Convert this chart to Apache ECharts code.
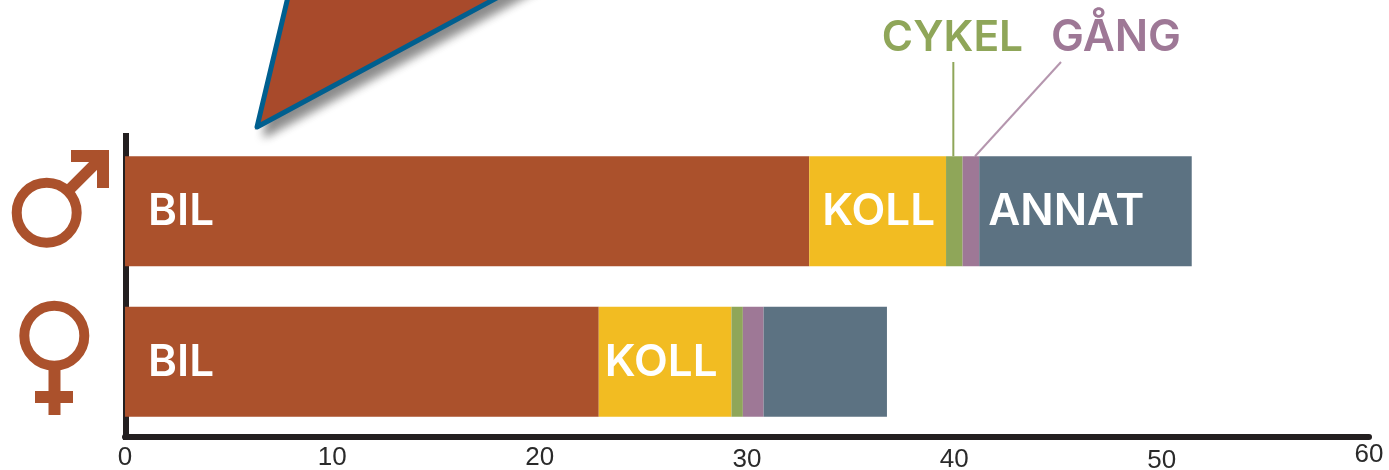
<!DOCTYPE html>
<html>
<head>
<meta charset="utf-8">
<style>
  html, body { margin: 0; padding: 0; background: #fff; }
  #chart { width: 1389px; height: 470px; }
</style>
<script src="https://cdn.jsdelivr.net/npm/echarts@6/dist/echarts.min.js"></script>
</head>
<body>
<div id="chart"></div>
<script>
  var categories = ['Män', 'Kvinnor'];
  var tickValues = [0, 10, 20, 30, 40, 50, 60];
  var bil = [33.0, 22.85];
  var koll = [6.6, 6.4];
  var cykel = [0.8, 0.55];
  var gang = [0.8, 1.0];
  var annat = [10.25, 5.95];
  var bilLabels = ['BIL', 'BIL'];
  var kollLabels = ['KOLL', 'KOLL'];
  var annatLabels = ['ANNAT', ''];

  var BROWN = '#ab512c', YELLOW = '#f2bc22', GREEN = '#8fa659', PURPLE = '#9e7896', SLATE = '#5c7282';
  var AXIS = '#231f20';
  var FONT = 'Inter, "Noto Sans", sans-serif';
  var TICK_FONT = '"Liberation Sans", sans-serif';

  function segment(name, values, color, labels, gaps) {
    return {
      name: name,
      type: 'bar',
      stack: 'total',
      barWidth: 110,
      itemStyle: { color: color },
      data: values.map(function (v, i) {
        var text = labels ? labels[i] : '';
        return {
          value: v,
          label: {
            show: !!text,
            position: 'insideLeft',
            distance: gaps ? gaps[i] : 0,
            offset: [0, 1],
            formatter: text,
            color: '#fff',
            fontFamily: FONT,
            fontWeight: 600,
            fontSize: 44
          }
        };
      })
    };
  }

  // the printed tick labels do not sit on one baseline
  function tickStyle(top) {
    return { padding: [top, 0, 0, 0], color: '#2a2a2a', fontFamily: TICK_FONT, fontSize: 26 };
  }

  var chart = echarts.init(document.getElementById('chart'));
  chart.setOption({
    animation: false,
    backgroundColor: '#fff',
    grid: { left: 125, right: 20, top: 136, bottom: 33, containLabel: false, outerBoundsMode: 'none' },
    xAxis: {
      type: 'value',
      min: 0,
      max: 60,
      interval: 10,
      splitLine: { show: false },
      axisTick: { show: false },
      axisLine: { show: true, onZero: false, lineStyle: { color: AXIS, width: 6 } },
      axisLabel: {
        show: true,
        margin: 5,
        showMinLabel: true,
        showMaxLabel: true,
        formatter: function (v) {
          if (tickValues.indexOf(v) < 0) return '';
          if (v === 60) return '{high|60}';
          if (v >= 50) return '{low|' + v + '}';
          if (v >= 30) return '{mid|' + v + '}';
          return '{base|' + v + '}';
        },
        rich: { high: tickStyle(0), base: tickStyle(3), mid: tickStyle(5), low: tickStyle(6) }
      }
    },
    yAxis: {
      type: 'category',
      inverse: true,
      offset: -1,
      data: categories,
      axisTick: { show: false },
      axisLabel: { show: false },
      axisLine: { show: true, onZero: false, lineStyle: { color: AXIS, width: 6, cap: 'square' } }
    },
    series: [
      segment('BIL', bil, BROWN, bilLabels, [23, 23]),
      segment('KOLL', koll, YELLOW, kollLabels, [13, 6]),
      segment('CYKEL', cykel, GREEN),
      segment('GÅNG', gang, PURPLE),
      segment('ANNAT', annat, SLATE, annatLabels, [9, 0])
    ]
  });

  // callouts sit on the men's bar, so anchor them through the axis scale
  var barTop = chart.convertToPixel({ yAxisIndex: 0 }, 0) - 55;
  var cykelX = chart.convertToPixel({ xAxisIndex: 0 }, bil[0] + koll[0] + cykel[0] / 2) - 1;
  var gangX = chart.convertToPixel({ xAxisIndex: 0 }, bil[0] + koll[0] + cykel[0] + gang[0] * 0.75);

  var ink = { fill: BROWN };
  var ring = { fill: 'none', stroke: BROWN, lineWidth: 10 };
  var pointer = [[292, -20], [257, 127], [530, -20]];

  chart.setOption({
    graphic: [
      // pointer shape coming in from the top edge; shadow kept on its own layer
      {
        type: 'polygon',
        shape: { points: pointer },
        style: {
          fill: '#999', stroke: '#999', lineWidth: 3,
          shadowBlur: 10, shadowOffsetX: 8, shadowOffsetY: 8, shadowColor: 'rgba(0,0,0,0.45)'
        }
      },
      {
        type: 'polygon',
        shape: { points: pointer },
        style: { fill: '#a84a2b', stroke: '#005f8f', lineWidth: 5, lineJoin: 'round' }
      },
      // male symbol
      { type: 'circle', shape: { cx: 46.7, cy: 212.7, r: 30 }, style: ring },
      { type: 'line', shape: { x1: 70, y1: 189, x2: 104, y2: 155 }, style: { stroke: BROWN, lineWidth: 11 } },
      {
        type: 'polygon',
        shape: { points: [[71, 150], [109, 150], [109, 188], [97, 188], [97, 162], [71, 162]] },
        style: ink
      },
      // female symbol
      { type: 'circle', shape: { cx: 54.3, cy: 335.7, r: 30 }, style: ring },
      { type: 'rect', shape: { x: 48.5, y: 368, width: 12, height: 47 }, style: ink },
      { type: 'rect', shape: { x: 35, y: 391, width: 38, height: 12 }, style: ink },
      // leader lines and their labels
      { type: 'line', shape: { x1: cykelX, y1: 62, x2: cykelX, y2: barTop }, style: { stroke: GREEN, lineWidth: 2 } },
      { type: 'line', shape: { x1: 1061, y1: 62, x2: gangX, y2: barTop }, style: { stroke: '#b596ae', lineWidth: 2 } },
      {
        type: 'text', x: 952.5, y: 38,
        style: { text: 'CYKEL', fill: GREEN, font: '600 42.5px ' + FONT, textAlign: 'center', textVerticalAlign: 'middle' }
      },
      {
        type: 'text', x: 1116, y: 38,
        style: { text: 'GÅNG', fill: PURPLE, font: '600 44px ' + FONT, textAlign: 'center', textVerticalAlign: 'middle' }
      }
    ]
  });
</script>
</body>
</html>
